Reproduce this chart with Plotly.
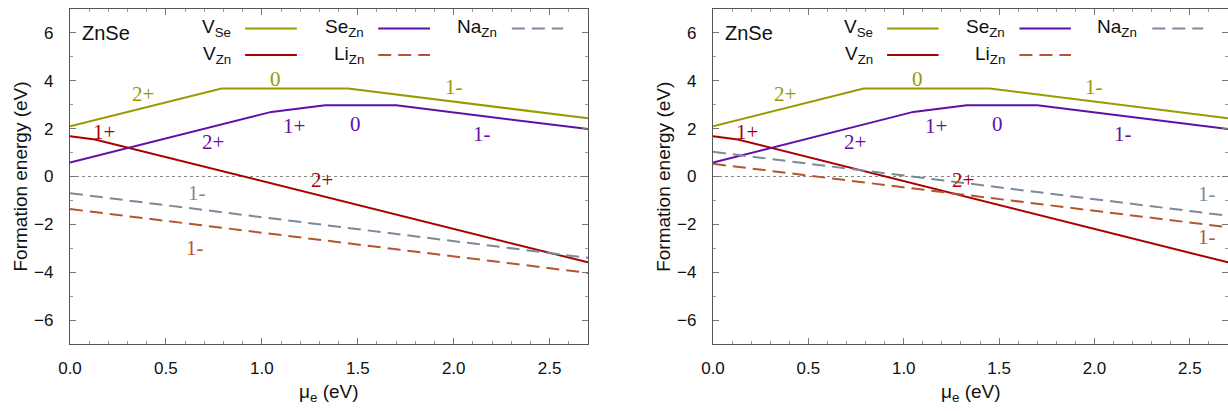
import plotly.graph_objects as go

# ---------------- data ----------------
MU_RANGE = [0.0, 2.7]
E_RANGE = [-7, 7]

# transition-level piecewise lines (mu_e, formation energy)
VSe_x = [0.0, 0.79, 1.45, 2.7]
VSe_y = [2.10, 3.68, 3.68, 2.43]
SeZn_x = [0.0, 1.05, 1.33, 1.70, 2.7]
SeZn_y = [0.58, 2.70, 2.98, 2.98, 1.98]
VZn_x = [0.0, 0.13, 2.7]
VZn_y = [1.68, 1.55, -3.59]
dop_x = [0.0, 2.7]
NaZn_y_left = [-0.70, -3.40]
LiZn_y_left = [-1.36, -4.03]
NaZn_y_right = [1.03, -1.64]
LiZn_y_right = [0.53, -2.12]

# charge-state labels: (text, mu, E)
VSe_labels = [("2+", 0.38, 3.46), ("0", 1.07, 4.07), ("1-", 2.0, 3.73)]
SeZn_labels = [("2+", 0.745, 1.45), ("1+", 1.17, 2.12), ("0", 1.49, 2.19), ("1-", 2.15, 1.78)]
VZn_labels = [("1+", 0.177, 1.87), ("2+", 1.313, -0.15)]
NaZn_labels_left = [("1-", 0.66, -0.69)]
LiZn_labels_left = [("1-", 0.65, -3.0)]
NaZn_labels_right = [("1-", 2.59, -0.75)]
LiZn_labels_right = [("1-", 2.59, -2.52)]

C_VSe = "#999900"
C_SeZn = "#5e10a8"
C_VZn = "#a80000"
C_LiZn = "#b5552f"
C_NaZn = "#7a8a9c"

SANS = "Liberation Sans, Arial, sans-serif"
SERIF = "Liberation Serif, Times New Roman, serif"

fig = go.Figure()

panels = [
    ("x", "y", NaZn_y_left, LiZn_y_left, NaZn_labels_left, LiZn_labels_left),
    ("x2", "y2", NaZn_y_right, LiZn_y_right, NaZn_labels_right, LiZn_labels_right),
]

DASH = "13px,7px"
LW = 2

for xa, ya, na_y, li_y, na_lab, li_lab in panels:
    fig.add_trace(go.Scatter(x=VSe_x, y=VSe_y, mode="lines", line=dict(color=C_VSe, width=LW),
                             xaxis=xa, yaxis=ya, showlegend=False))
    fig.add_trace(go.Scatter(x=VZn_x, y=VZn_y, mode="lines", line=dict(color=C_VZn, width=LW),
                             xaxis=xa, yaxis=ya, showlegend=False))
    fig.add_trace(go.Scatter(x=SeZn_x, y=SeZn_y, mode="lines", line=dict(color=C_SeZn, width=LW),
                             xaxis=xa, yaxis=ya, showlegend=False))
    fig.add_trace(go.Scatter(x=dop_x, y=li_y, mode="lines", line=dict(color=C_LiZn, width=LW, dash=DASH),
                             xaxis=xa, yaxis=ya, showlegend=False))
    fig.add_trace(go.Scatter(x=dop_x, y=na_y, mode="lines", line=dict(color=C_NaZn, width=LW, dash=DASH),
                             xaxis=xa, yaxis=ya, showlegend=False))

    # zero line (dotted)
    fig.add_shape(type="line", xref=f"{xa} domain", yref=ya, x0=0, x1=1, y0=0, y1=0,
                  line=dict(color="#888888", width=1, dash="dot"), layer="below")

    # charge labels
    for labs, col in [(VSe_labels, C_VSe), (SeZn_labels, C_SeZn), (VZn_labels, C_VZn),
                      (na_lab, C_NaZn), (li_lab, C_LiZn)]:
        for t, mx, my in labs:
            fig.add_annotation(x=mx, y=my, xref=xa, yref=ya, text=t, showarrow=False,
                               font=dict(family=SERIF, size=21, color=col))

    # ZnSe tag
    fig.add_annotation(x=0.019, y=0.928, xref=f"{xa} domain", yref=f"{ya} domain", text="ZnSe",
                       showarrow=False, xanchor="left", yanchor="middle",
                       font=dict(family=SANS, size=20, color="#111111"))

    # key
    key = [
        ("V<sub>Se</sub>", C_VSe, None, 0.314, 0.338, 0.438, 0.942),
        ("V<sub>Zn</sub>", C_VZn, None, 0.314, 0.338, 0.438, 0.863),
        ("Se<sub>Zn</sub>", C_SeZn, None, 0.571, 0.595, 0.695, 0.942),
        ("Li<sub>Zn</sub>", C_LiZn, DASH, 0.571, 0.595, 0.695, 0.863),
        ("Na<sub>Zn</sub>", C_NaZn, DASH, 0.828, 0.853, 0.952, 0.942),
    ]
    for txt, col, dash, tx, lx0, lx1, ky in key:
        fig.add_annotation(x=tx, y=ky, xref=f"{xa} domain", yref=f"{ya} domain", text=txt,
                           showarrow=False, xanchor="right", yanchor="middle",
                           font=dict(family=SANS, size=19, color="#111111"))
        fig.add_shape(type="line", xref=f"{xa} domain", yref=f"{ya} domain",
                      x0=lx0, x1=lx1, y0=ky, y1=ky,
                      line=dict(color=col, width=LW, dash=dash if dash else "solid"))

    # axis titles
    fig.add_annotation(x=0.5, y=-0.146, xref=f"{xa} domain", yref=f"{ya} domain",
                       text="μ<sub>e</sub> (eV)", showarrow=False, xanchor="center", yanchor="middle",
                       font=dict(family=SANS, size=19, color="#111111"))
    fig.add_annotation(x=-0.0965, y=0.5, xref=f"{xa} domain", yref=f"{ya} domain",
                       text="Formation energy (eV)", textangle=-90, showarrow=False,
                       xanchor="center", yanchor="middle",
                       font=dict(family=SANS, size=19, color="#111111"))

xaxis_common = dict(range=MU_RANGE, tick0=0, dtick=0.5, tickformat=".1f",
                    ticks="inside", ticklen=6, tickcolor="#777777", tickwidth=1,
                    minor=dict(dtick=0.1, ticks="inside", ticklen=3, tickcolor="#999999"),
                    showline=True, linecolor="#555555", linewidth=1.2, mirror="allticks",
                    showgrid=False, zeroline=False, automargin=False,
                    tickfont=dict(family=SANS, size=17, color="#111111"),
                    ticklabelstandoff=8)
yaxis_common = dict(range=E_RANGE, tick0=0, dtick=2,
                    ticks="inside", ticklen=6, tickcolor="#777777", tickwidth=1,
                    minor=dict(dtick=1, ticks="inside", ticklen=3, tickcolor="#999999"),
                    showline=True, linecolor="#555555", linewidth=1.2, mirror="allticks",
                    showgrid=False, zeroline=False, automargin=False,
                    tickfont=dict(family=SANS, size=17, color="#111111"),
                    ticklabelstandoff=12)

Y_DOM = [1 - 344 / 411, 1 - 9 / 411]
fig.update_layout(
    width=1228, height=411,
    margin=dict(l=0, r=0, t=0, b=0),
    paper_bgcolor="white", plot_bgcolor="white",
    showlegend=False,
    xaxis=dict(domain=[70 / 1228, 588 / 1228], anchor="y", **xaxis_common),
    yaxis=dict(domain=Y_DOM, anchor="x", **yaxis_common),
    xaxis2=dict(domain=[713 / 1228, 1.0], anchor="y2", **xaxis_common),
    yaxis2=dict(domain=Y_DOM, anchor="x2", **yaxis_common),
)

fig.write_html(
    "out.html",
    config={"displayModeBar": False},
    post_script="document.body.style.margin='0';document.body.style.padding='0';"
                "document.body.style.overflow='hidden';",
)
